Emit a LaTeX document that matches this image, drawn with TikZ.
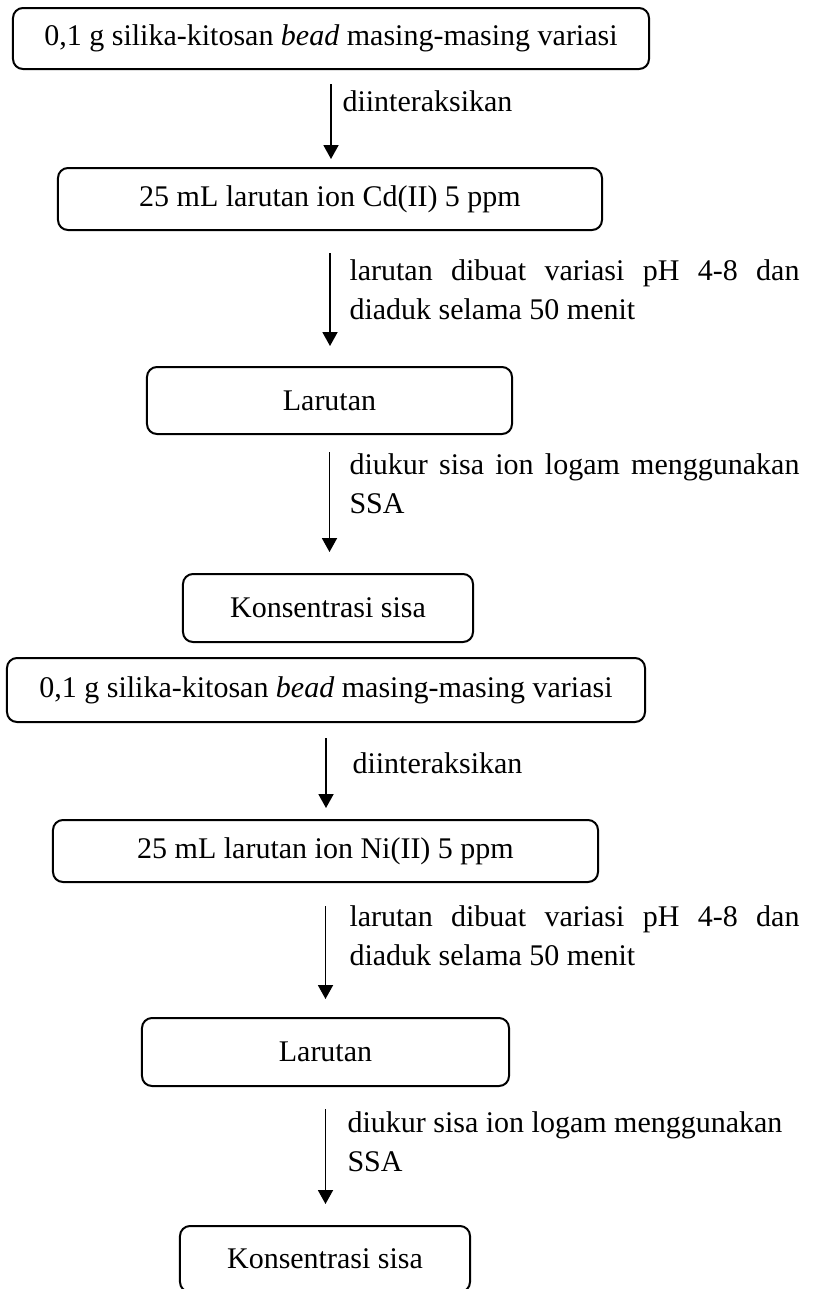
\documentclass[tikz,border=0pt]{standalone}
\usepackage{fontspec}
\setmainfont{Liberation Serif}
\usetikzlibrary{arrows.meta}
\tikzset{
  box/.style={rectangle, rounded corners=4pt, draw=black, line width=0.8pt,
              align=center, inner sep=0pt,
              font=\fontsize{12}{14.4}\selectfont},
  arr/.style={-{Triangle[width=6pt,length=5.6pt]}, line width=0.75pt},
  note/.style={anchor=north west, inner sep=0pt, text width=180pt,
               align=justify, font=\fontsize{12}{15.5}\selectfont,
               execute at begin node={\tolerance=9999\hyphenpenalty=10000}}
}

\begin{document}
\begin{tikzpicture}[x=0.4pt, y=-0.4pt]
  \useasboundingbox (0,0) rectangle (835,1289);

  % Cd(II) series
  \node[box, minimum width=254.4pt, minimum height=24.4pt] (b1) at (331,38.5)
    {0,1 g silika-kitosan \textit{bead} masing-masing variasi};
  \node[box, minimum width=217.6pt, minimum height=24.8pt] (b2) at (330,199)
    {25 mL larutan ion Cd(II) 5 ppm};
  \node[box, minimum width=146pt, minimum height=26.8pt] (b3) at (329.5,400.5)
    {Larutan};
  \node[box, minimum width=116pt, minimum height=27.2pt] (b4) at (328,608)
    {Konsentrasi sisa};

  % Ni(II) series
  \node[box, minimum width=255.2pt, minimum height=25.6pt] (b5) at (326,690)
    {0,1 g silika-kitosan \textit{bead} masing-masing variasi};
  \node[box, minimum width=218pt, minimum height=24.8pt] (b6) at (325.5,851)
    {25 mL larutan ion Ni(II) 5 ppm};
  \node[box, minimum width=146.8pt, minimum height=27.2pt] (b7) at (325.5,1052)
    {Larutan};
  \node[box, minimum width=116pt, minimum height=26.4pt] (b8) at (325,1259)
    {Konsentrasi sisa};

  % arrows
  \draw[arr, shorten <=5.6pt, shorten >=3.2pt] (b1.south) -- (b1.south |- b2.north);
  \draw[arr, shorten <=8.8pt, shorten >=8pt] (b2.south) -- (b2.south |- b3.north);
  \draw[arr, shorten <=6.8pt, shorten >=8.4pt] (b3.south) -- (b3.south |- b4.north);
  \draw[arr, shorten <=6pt, shorten >=4.4pt] (b5.south) -- (b5.south |- b6.north);
  \draw[arr, shorten <=9.2pt, shorten >=7.2pt] (b6.south) -- (b6.south |- b7.north);
  \draw[arr, shorten <=8.8pt, shorten >=8.4pt] (b7.south) -- (b7.south |- b8.north);

  % labels
  \node[note] (l1) at (342,90) {diinteraksikan};
  \node[note] (l2) at (349,259) {larutan dibuat variasi pH 4-8 dan diaduk selama 50 menit};
  \node[note] (l3) at (349,453) {diukur sisa ion logam menggunakan SSA};
  \node[note] (l4) at (352,752) {diinteraksikan};
  \node[note] (l5) at (349,905) {larutan dibuat variasi pH 4-8 dan diaduk selama 50 menit};
  \node[note, align=flush left] (l6) at (347,1111) {diukur sisa ion logam menggunakan\\SSA};
\end{tikzpicture}
\end{document}
